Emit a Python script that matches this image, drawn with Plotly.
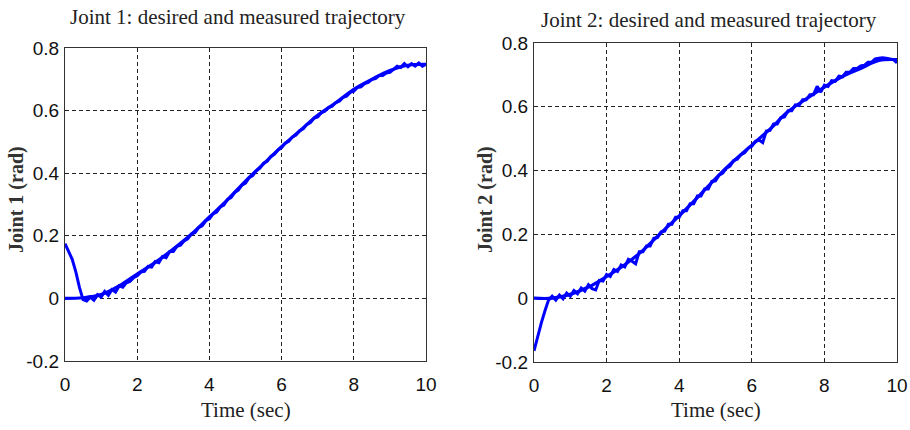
import numpy as np
import plotly.graph_objects as go

# ---- data ----
t_des = [0, 0.5, 1, 1.5, 2, 2.5, 3, 3.5, 4, 4.5, 5, 5.5, 6, 6.5, 7, 7.5, 8, 8.5, 9, 9.5, 10]
j1_desired = [0.0, 0.002, 0.012, 0.040, 0.078, 0.115, 0.158, 0.205, 0.260, 0.315, 0.375,
              0.430, 0.485, 0.535, 0.585, 0.625, 0.668, 0.700, 0.728, 0.745, 0.748]
j2_desired = [0.0, 0.0, 0.012, 0.035, 0.068, 0.105, 0.150, 0.205, 0.258, 0.315, 0.375,
              0.430, 0.480, 0.530, 0.585, 0.625, 0.662, 0.695, 0.720, 0.745, 0.748]

t_meas = np.round(np.arange(101) * 0.1, 1)
j1_measured = [
    0.175, 0.150, 0.125, 0.085, 0.035, -0.004, -0.008, 0.004, -0.006, 0.012,
    0.004, 0.022, 0.010, 0.028, 0.020, 0.040, 0.036, 0.050, 0.054, 0.066,
    0.072, 0.084, 0.086, 0.102, 0.100, 0.118, 0.114, 0.134, 0.130, 0.150,
    0.150, 0.166, 0.170, 0.184, 0.190, 0.206, 0.210, 0.226, 0.232, 0.248,
    0.254, 0.270, 0.276, 0.292, 0.298, 0.316, 0.322, 0.338, 0.346, 0.362,
    0.368, 0.386, 0.392, 0.408, 0.416, 0.432, 0.438, 0.454, 0.460, 0.474,
    0.482, 0.496, 0.502, 0.516, 0.522, 0.536, 0.542, 0.556, 0.562, 0.576,
    0.580, 0.594, 0.598, 0.610, 0.614, 0.626, 0.630, 0.642, 0.646, 0.658,
    0.662, 0.674, 0.676, 0.686, 0.690, 0.700, 0.702, 0.712, 0.712, 0.720,
    0.722, 0.732, 0.742, 0.738, 0.750, 0.740, 0.750, 0.742, 0.752, 0.742,
    0.748]
j2_measured = [
    -0.165, -0.120, -0.078, -0.040, -0.006, 0.006, -0.006, 0.010, -0.002, 0.016,
    0.006, 0.024, 0.014, 0.032, 0.022, 0.042, 0.030, 0.026, 0.056, 0.054,
    0.074, 0.068, 0.090, 0.084, 0.104, 0.098, 0.122, 0.116, 0.108, 0.146,
    0.146, 0.164, 0.164, 0.188, 0.190, 0.208, 0.210, 0.232, 0.232, 0.254,
    0.254, 0.274, 0.274, 0.296, 0.296, 0.320, 0.320, 0.342, 0.342, 0.366,
    0.368, 0.386, 0.392, 0.408, 0.414, 0.432, 0.436, 0.450, 0.456, 0.470,
    0.476, 0.492, 0.496, 0.488, 0.524, 0.526, 0.546, 0.546, 0.566, 0.568,
    0.588, 0.588, 0.606, 0.604, 0.622, 0.622, 0.638, 0.638, 0.664, 0.646,
    0.668, 0.664, 0.682, 0.680, 0.696, 0.694, 0.708, 0.708, 0.720, 0.720,
    0.728, 0.730, 0.740, 0.740, 0.750, 0.752, 0.754, 0.752, 0.750, 0.748,
    0.738]

x_ticks = [0, 2, 4, 6, 8, 10]
y_ticks = [-0.2, 0, 0.2, 0.4, 0.6, 0.8]
y_tick_text = ["-0.2", "0", "0.2", "0.4", "0.6", "0.8"]
titles = ["Joint 1: desired and measured trajectory", "Joint 2: desired and measured trajectory"]
y_titles = ["Joint 1 (rad)", "Joint 2 (rad)"]
x_title = "Time (sec)"

BLUE = "#0000FF"
W, H = 910, 430

fig = go.Figure()
for i, (des, meas) in enumerate([(j1_desired, j1_measured), (j2_desired, j2_measured)]):
    xa = "x" if i == 0 else "x2"
    ya = "y" if i == 0 else "y2"
    fig.add_trace(go.Scatter(x=t_des, y=des, mode="lines", xaxis=xa, yaxis=ya,
                             line=dict(color=BLUE, width=3.2, shape="spline"), showlegend=False))
    fig.add_trace(go.Scatter(x=t_meas, y=meas, mode="lines", xaxis=xa, yaxis=ya,
                             line=dict(color=BLUE, width=3.0), showlegend=False))

# plot areas in pixels: (left, right, top, bottom)
areas = [(65, 426, 48, 361), (534, 897, 43, 362)]

def xaxis_cfg(l, r, anchor):
    return dict(domain=[l / W, r / W], range=[0, 10], anchor=anchor, automargin=False,
                tickvals=x_ticks, ticktext=[str(v) for v in x_ticks],
                showgrid=True, gridcolor="#222", griddash="4px,3px", gridwidth=1,
                zeroline=False, showline=True, mirror=True, linecolor="#333", linewidth=1.3,
                ticks="", ticklabelstandoff=6,
                tickfont=dict(family="Liberation Sans, Arial", size=19, color="#111"),
                fixedrange=True)

def yaxis_cfg(t, b, anchor):
    return dict(domain=[(H - b) / H, (H - t) / H], range=[-0.2, 0.8], anchor=anchor, automargin=False,
                tickvals=y_ticks, ticktext=y_tick_text,
                showgrid=True, gridcolor="#222", griddash="4px,3px", gridwidth=1,
                zeroline=False, showline=True, mirror=True, linecolor="#333", linewidth=1.3,
                ticks="", ticklabelstandoff=1,
                tickfont=dict(family="Liberation Sans, Arial", size=19, color="#111"),
                fixedrange=True)

fig.update_layout(
    xaxis=xaxis_cfg(areas[0][0], areas[0][1], "y"),
    yaxis=yaxis_cfg(areas[0][2], areas[0][3], "x"),
    xaxis2=xaxis_cfg(areas[1][0], areas[1][1], "y2"),
    yaxis2=yaxis_cfg(areas[1][2], areas[1][3], "x2"),
)

ann = []
centers = [(238, 17), (709, 20)]
for i in range(2):
    l, r, t, b = areas[i]
    cx, cy = centers[i]
    ann.append(dict(text=titles[i], x=cx / W, y=1 - cy / H, xref="paper", yref="paper",
                    xanchor="center", yanchor="middle", showarrow=False,
                    font=dict(family="Liberation Serif, Times New Roman", size=21, color="#222")))
    ann.append(dict(text=x_title, x=(l + r) / 2 / W, y=1 - 410 / H, xref="paper", yref="paper",
                    xanchor="center", yanchor="middle", showarrow=False,
                    font=dict(family="Liberation Serif, Times New Roman", size=21, color="#222")))
ann.append(dict(text="<b>" + y_titles[0] + "</b>", x=17 / W, y=1 - 200 / H, xref="paper", yref="paper",
                xanchor="center", yanchor="middle", showarrow=False, textangle=-90,
                font=dict(family="Liberation Serif, Times New Roman", size=20, color="#333")))
ann.append(dict(text="<b>" + y_titles[1] + "</b>", x=486 / W, y=1 - 200 / H, xref="paper", yref="paper",
                xanchor="center", yanchor="middle", showarrow=False, textangle=-90,
                font=dict(family="Liberation Serif, Times New Roman", size=20, color="#333")))

fig.update_layout(
    width=W, height=H, autosize=False,
    margin=dict(l=0, r=0, t=0, b=0, autoexpand=False),
    paper_bgcolor="white", plot_bgcolor="white",
    annotations=ann, showlegend=False,
)

fig.write_html("out.html", config={"displayModeBar": False})
